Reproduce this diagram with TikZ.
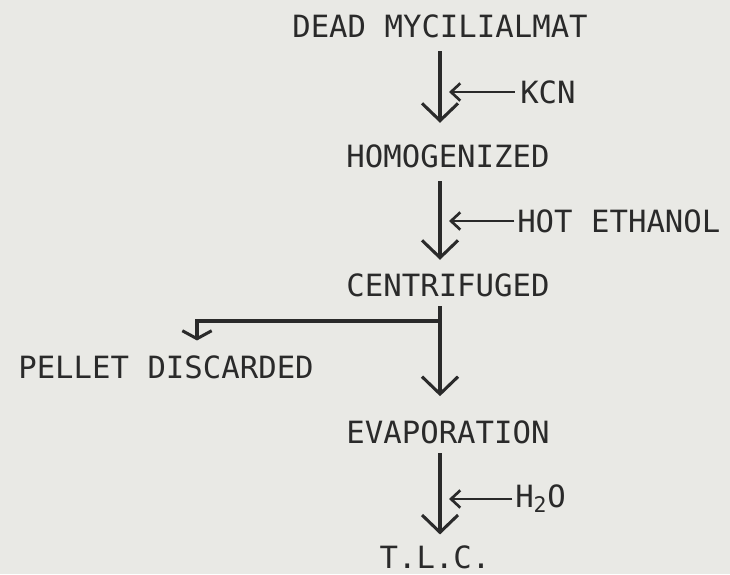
\documentclass[tikz,border=0pt]{standalone}
\usepackage{fontspec}
\newfontfamily\typer{DejaVu Sans Mono}
\usetikzlibrary{arrows.meta, positioning}
\definecolor{paper}{HTML}{E9E9E5}
\definecolor{ink}{HTML}{2A2A2A}

\begin{document}
\begin{tikzpicture}[
    x=0.75pt, y=-0.75pt,
    word/.style={inner sep=0pt, text=ink, font=\typer\fontsize{23}{28}\selectfont},
    arrow/.style={draw=ink, line width=2.3pt, -{Straight Barb[length=13pt, width=27pt, line width=2.3pt]}},
    side/.style={draw=ink, line width=2pt, -{Straight Barb[length=7pt, width=13pt, line width=2pt]}},
    drop/.style={draw=ink, line width=2.3pt, -{Straight Barb[length=6pt, width=22pt, line width=2.3pt]}}
  ]
    \fill[paper] (0,0) rectangle (730,574);
    \useasboundingbox (0,0) rectangle (730,574);

    % main column
    \coordinate (axis) at (440,0);
    \node[word] (dead) at (440,26) {DEAD MYCILIALMAT};
    \node[word] (homog) at (448,156) {HOMOGENIZED};
    \node[word] (centr) at (448,285) {CENTRIFUGED};
    \node[word] (evap) at (448,432) {EVAPORATION};
    \node[word] (tlc) at (435,557) {T.L.C.};
    \node[word] (pellet) at (166,367) {PELLET DISCARDED};

    % added reagents
    \node[word, anchor=west] (kcn) at (520,92) {KCN};
    \node[word, anchor=west] (etoh) at (517,221) {HOT ETHANOL};
    \node[word, anchor=west] (water) at (515,499) {H\textsubscript{2}O};
    \coordinate (kcnend) at (449,92);
    \coordinate (etohend) at (449,221);
    \coordinate (waterend) at (449,497);

    \draw[arrow, shorten <=10pt, shorten >=16pt] (dead.south -| axis) -- (homog.north -| axis);
    \draw[arrow, shorten <=10pt, shorten >=10pt] (homog.south -| axis) -- (centr.north -| axis);
    \draw[arrow, shorten <=7pt, shorten >=18pt] (centr.south -| axis) -- (evap.north -| axis);
    \draw[arrow, shorten <=7pt, shorten >=8pt] (evap.south -| axis) -- (tlc.north -| axis);

    \draw[side, shorten <=4pt] (kcn.west) -- (kcnend);
    \draw[side, shorten <=2pt] (etoh.west) -- (etohend);
    \draw[side, shorten <=2pt] (water.west) -- (water.west -| waterend);

    % pellet branch
    \coordinate (split) at (440,321);
    \coordinate (bend) at (197,321);
    \draw[drop, shorten >=11pt] (split) -- (bend) -- (bend |- pellet.north);
  \end{tikzpicture}
\end{document}
